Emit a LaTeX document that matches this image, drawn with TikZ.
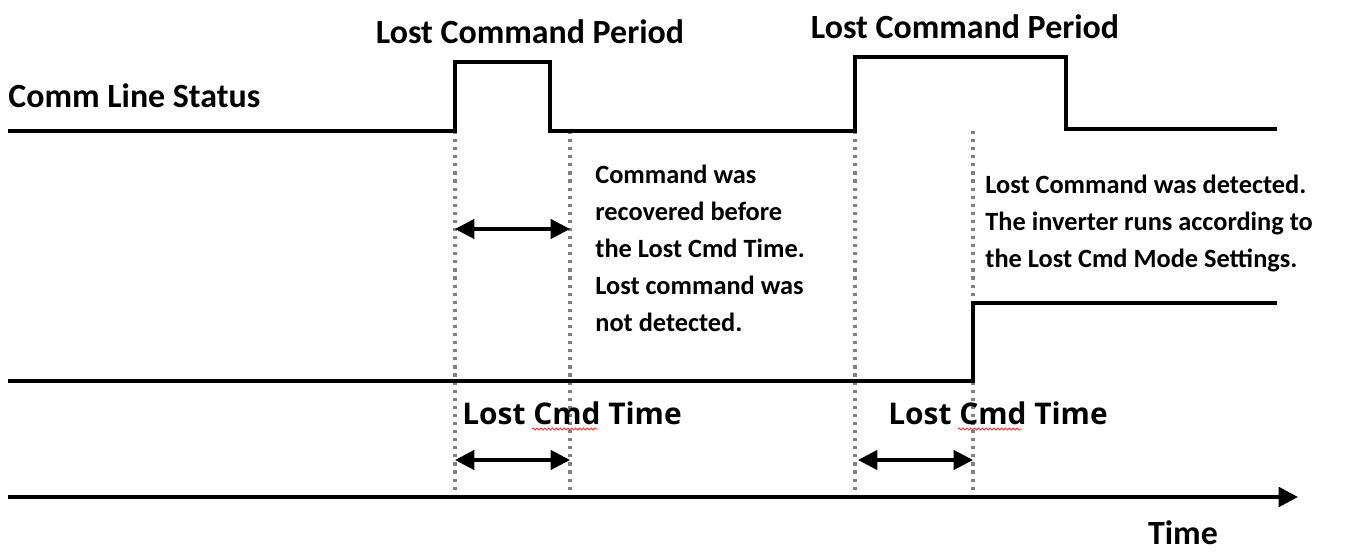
\documentclass[tikz,border=0pt]{standalone}
\usepackage{fontspec}
\setmainfont{Carlito}
\newfontfamily\gothic{Open Sans}
\usetikzlibrary{arrows.meta,decorations.pathmorphing}

\tikzset{
    wave/.style={line width=2.3pt, line join=miter},
    guide/.style={draw=gray, line width=1.8pt, dash pattern=on 1.8pt off 2.8pt},
    span/.style={line width=1.8pt, {Triangle[length=11pt, width=11pt]}-{Triangle[length=11pt, width=11pt]}},
    label/.style={font=\bfseries\fontsize{19.3}{22}\selectfont, inner sep=0pt},
    note/.style={font=\bfseries\fontsize{15}{21}\selectfont, align=left, inner sep=0pt, anchor=north west},
    timelabel/.style={font=\gothic\bfseries\fontsize{17}{20}\selectfont, inner sep=0pt, anchor=west},
    typo/.style={draw=red!80, line width=0.5pt, decorate, decoration={snake, amplitude=0.6pt, segment length=2.2pt}}
}

\begin{document}
\begin{tikzpicture}[x=0.02cm, y=-0.02cm]
    \useasboundingbox (0, 0) rectangle (1350, 553);

    % Time marks
    \coordinate (t1) at (455, 131);
    \coordinate (t2) at (570, 131);
    \coordinate (t3) at (855, 131);
    \coordinate (t4) at (973, 131);

    % Dotted guides down to the time axis
    \foreach \t in {t1, t2, t3, t4}
    \draw[guide] (\t) -- (\t |- 0, 497);

    % Comm line status
    \node[label, anchor=west] (status) at (8, 96) {Comm Line Status};
    \draw[wave] (8, 131) -- (455, 131) -- (455, 62) -- (550, 62) -- (550, 131) -- (855, 131)
        -- (855, 57) -- (1066, 57) -- (1066, 129) -- (1277, 129);
    \node[label] (period1) at (530, 32) {Lost Command Period};
    \node[label] (period2) at (965, 27) {Lost Command Period};

    % Lost command output
    \draw[wave] (8, 381) -- (973, 381) -- (973, 303) -- (1277, 303);

    % Spans
    \coordinate (a1) at (455, 229);
    \coordinate (a2) at (570, 229);
    \draw[span] (a1) -- (a2);
    \coordinate (b1) at (455, 460);
    \coordinate (b2) at (570, 460);
    \draw[span] (b1) -- (b2);
    \coordinate (c1) at (858, 460);
    \coordinate (c2) at (973, 460);
    \draw[span] (c1) -- (c2);

    % Notes
    \node[note] (note1) at (595, 165) {Command was\\recovered before\\the Lost Cmd Time.\\Lost command was\\not detected.};
    \node[note] (note2) at (985, 175) {Lost Command was detected.\\The inverter runs according to\\the Lost Cmd Mode Settings.};

    % Lost Cmd Time labels
    \node[timelabel] (lct1) at (462, 413) {Lost Cmd Time};
    \node[timelabel] (lct2) at (888, 413) {Lost Cmd Time};
    \coordinate (w1) at (532, 429);
    \coordinate (w2) at (598, 429);
    \draw[typo] (w1) -- (w2);
    \coordinate (w3) at (958, 429);
    \coordinate (w4) at (1022, 429);
    \draw[typo] (w3) -- (w4);

    % Time axis
    \coordinate (origin) at (8, 497);
    \coordinate (tend) at (1298, 497);
    \draw[line width=2.3pt, -{Triangle[length=11pt, width=11pt]}] (origin) -- (tend);
    \node[label, anchor=base] (time) at (1183, 545) {Time};
\end{tikzpicture}
\end{document}
